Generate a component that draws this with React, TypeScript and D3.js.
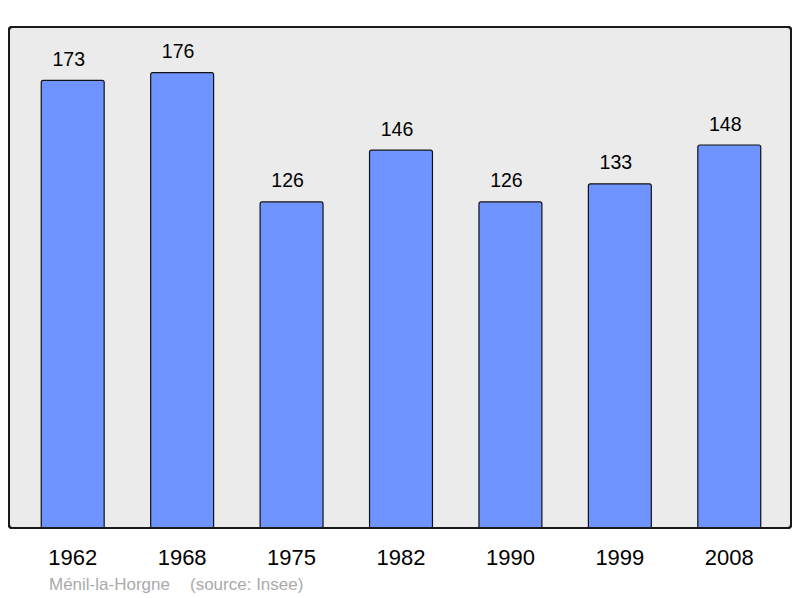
import React from 'react';
import * as d3 from 'd3';

const years = ['1962', '1968', '1975', '1982', '1990', '1999', '2008'];
const population = [173, 176, 126, 146, 126, 133, 148];
const townName = 'Ménil-la-Horgne';
const sourceNote = '(source: Insee)';

const App = () => {
  const width = 800;
  const height = 598;
  const plot = { left: 9, right: 791, top: 27, bottom: 528 };

  const x = d3.scaleBand()
    .domain(years)
    .range([18, 784])
    .paddingInner(0.425)
    .paddingOuter(0.2125);

  const y = d3.scaleLinear()
    .domain([0, d3.max(population) * 1.1])
    .range([plot.bottom, plot.top]);

  const font = '"Liberation Sans", Arial, sans-serif';

  // bar path with slightly rounded top corners
  const barPath = (x0, y0, w, h) => {
    const r = 2;
    return `M${x0},${y0 + h} L${x0},${y0 + r} Q${x0},${y0} ${x0 + r},${y0} ` +
      `L${x0 + w - r},${y0} Q${x0 + w},${y0} ${x0 + w},${y0 + r} L${x0 + w},${y0 + h}`;
  };

  return (
    <svg width={width} height={height} style={{ position: 'absolute', left: 0, top: 0 }}>
      <rect x={plot.left} y={plot.top} width={plot.right - plot.left} height={plot.bottom - plot.top}
        rx={3} fill="#ebebeb" stroke="#1a1a1a" strokeWidth={2} />
      {years.map((yr, i) => {
        const x0 = x(yr);
        const y0 = y(population[i]);
        const w = x.bandwidth();
        return (
          <g key={yr}>
            <path d={barPath(x0, y0, w, plot.bottom - y0)} fill="#7094ff" stroke="#111" strokeWidth={1.2} />
            <text x={x0 + w / 2 - 4} y={y0 - 14.5} textAnchor="middle" fontFamily={font} fontSize={19.5} fill="#000">
              {population[i]}
            </text>
            <text x={x0 + w / 2} y={565} textAnchor="middle" fontFamily={font} fontSize={22} fill="#000">
              {yr}
            </text>
          </g>
        );
      })}
      <rect x={plot.left} y={plot.top} width={plot.right - plot.left} height={plot.bottom - plot.top}
        rx={3} fill="none" stroke="#1a1a1a" strokeWidth={2} />
      <text x={49} y={590} fontFamily={font} fontSize={17} fill="#aaaaaa">{townName}</text>
      <text x={190} y={590} fontFamily={font} fontSize={17} fill="#aaaaaa">{sourceNote}</text>
    </svg>
  );
};

export default App;
